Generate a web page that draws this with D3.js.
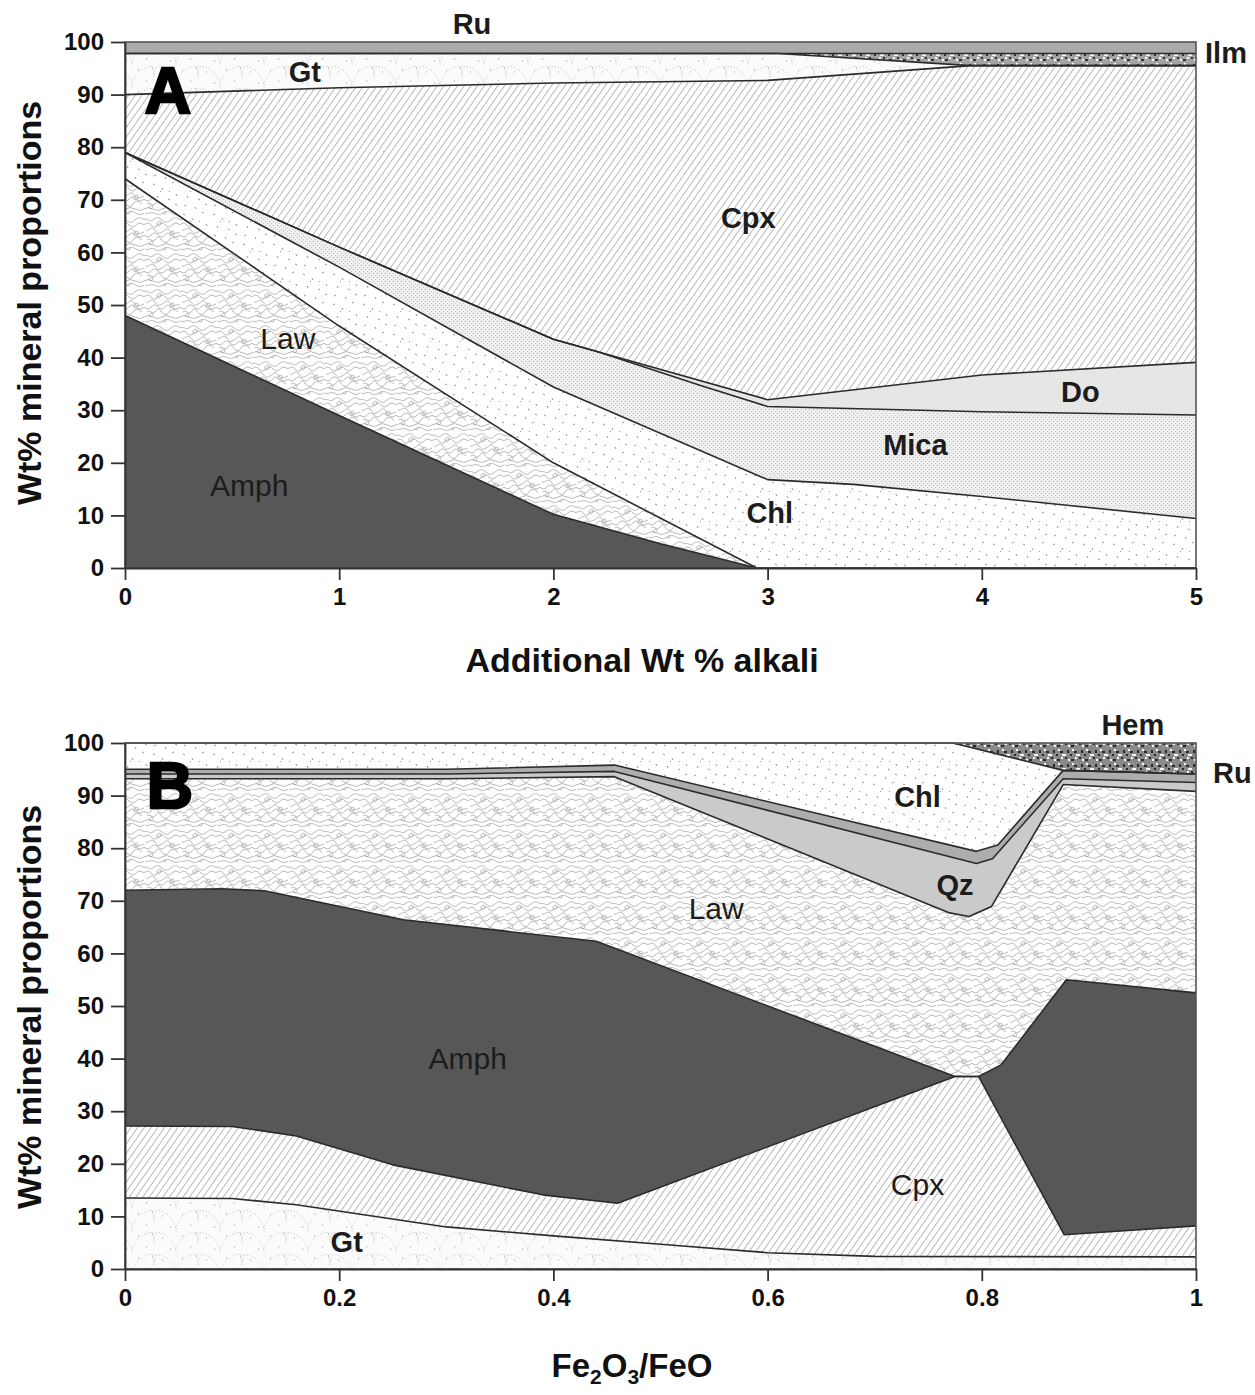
<!DOCTYPE html>
<html>
<head>
<meta charset="utf-8">
<script src="https://cdn.jsdelivr.net/npm/d3@7"></script>
<style>
  html, body { margin: 0; padding: 0; background: #fff; }
  svg { display: block; font-family: "Liberation Sans", Arial, sans-serif; }
</style>
</head>
<body>
<svg id="chart" width="1255" height="1395"></svg>
<script>
// ---- Panel A: additional wt% alkali; cumulative phase boundaries [x, wt%] ----
const ticksA = [0, 1, 2, 3, 4, 5];
const yTicks = [0, 10, 20, 30, 40, 50, 60, 70, 80, 90, 100];
const baseA  = [[0, 0], [5, 0]];
const amphA  = [[0, 48], [1, 29], [2, 10.2], [2.5, 4.6], [2.95, 0], [5, 0]];
const lawA   = [[0, 74], [1, 46], [2, 20], [2.95, 0], [5, 0]];
const chlA   = [[0, 79], [1, 57.2], [2, 34.4], [3, 16.8], [3.4, 15.9], [4, 13.6], [5, 9.4]];
const micaA  = [[0, 79], [1, 61], [2, 43.5], [2.2, 41.2], [2.68, 34.8], [3, 30.7], [4, 29.7], [5, 29.1]];
const doA    = [[0, 79], [1, 61], [2, 43.5], [3, 32], [4, 36.7], [5, 39.1]];
const cpxA   = [[0, 90], [1, 91.3], [2, 92.2], [3, 92.7], [3.95, 95.5], [5, 95.5]];
const gtA    = [[0, 97.8], [3.05, 97.8], [3.95, 95.5], [5, 95.5]];
const ilmA   = [[0, 97.8], [5, 97.8]];
const ruA    = [[0, 100], [5, 100]];

// ---- Panel B: Fe2O3/FeO ----
const ticksB = [0, 0.2, 0.4, 0.6, 0.8, 1];
const baseB  = [[0, 0], [1, 0]];
const gtB    = [[0, 13.5], [0.1, 13.4], [0.16, 12.2], [0.3, 8], [0.4, 6.3], [0.5, 4.7], [0.6, 3.1], [0.7, 2.4], [1, 2.3]];
const cpxB   = [[0, 27.2], [0.1, 27.1], [0.16, 25.3], [0.25, 19.8], [0.39, 14.1], [0.46, 12.5], [0.775, 36.6], [0.797, 36.6], [0.877, 6.5], [1, 8.2]];
const amphB  = [[0, 72], [0.09, 72.3], [0.13, 71.9], [0.26, 66.4], [0.44, 62.3], [0.775, 36.6], [0.797, 36.6], [0.818, 38.8], [0.879, 55], [1, 52.5]];
const lawB   = [[0, 93.2], [0.3, 93.2], [0.457, 93.6], [0.77, 67.7], [0.788, 67.0], [0.809, 68.9], [0.876, 92.1], [1, 90.8]];
const qzB    = [[0, 94.1], [0.3, 94.1], [0.457, 94.6], [0.795, 77.1], [0.81, 78], [0.876, 93.2], [1, 92.5]];
const ruB    = [[0, 95.0], [0.3, 95.0], [0.457, 95.8], [0.795, 79.4], [0.815, 80.6], [0.876, 94.8], [1, 94.1]];
const chlB   = [[0, 100], [0.773, 100], [0.876, 94.8], [1, 94.1]];
const hemB   = [[0, 100], [1, 100]];

// phase names and where their labels sit (data units)
const labelsA = [
  { t: "Ru",   x: 1.62, y: 103.4, w: "bold" },
  { t: "Gt",   x: 0.84, y: 94.3,  w: "bold" },
  { t: "Ilm",  x: 5.14, y: 97.9,  w: "bold" },
  { t: "Cpx",  x: 2.91, y: 66.5,  w: "bold" },
  { t: "Do",   x: 4.46, y: 33.5,  w: "bold" },
  { t: "Mica", x: 3.69, y: 23.4,  w: "bold" },
  { t: "Chl",  x: 3.01, y: 10.5,  w: "bold" },
  { t: "Law",  x: 0.76, y: 43.7,  w: "normal" },
  { t: "Amph", x: 0.58, y: 15.6,  w: "normal" }
];
const labelsB = [
  { t: "Hem",  x: 0.941, y: 103.4, w: "bold" },
  { t: "Ru",   x: 1.034, y: 94.3,  w: "bold" },
  { t: "Chl",  x: 0.74,  y: 89.7,  w: "bold" },
  { t: "Qz",   x: 0.775, y: 73,    w: "bold" },
  { t: "Law",  x: 0.552, y: 68.6,  w: "normal" },
  { t: "Amph", x: 0.32,  y: 40.1,  w: "normal" },
  { t: "Cpx",  x: 0.74,  y: 16,    w: "normal" },
  { t: "Gt",   x: 0.207, y: 5.1,   w: "bold" }
];

const svg = d3.select("#chart");
const defs = svg.append("defs");

// ---------- fill textures ----------
function pat(id, w, h, bg, extra) {
  const p = defs.append("pattern").attr("id", id).attr("patternUnits", "userSpaceOnUse")
    .attr("width", w).attr("height", h);
  if (extra) p.attr("patternTransform", extra);
  if (bg) p.append("rect").attr("width", w).attr("height", h).attr("fill", bg);
  return p;
}
// clinopyroxene: fine diagonal hatch
pat("cpx", 5.5, 10, "#fff", "rotate(35)")
  .append("line").attr("x1", 0.5).attr("y1", 0).attr("x2", 0.5).attr("y2", 10)
  .attr("stroke", "#a2a2a2").attr("stroke-width", 0.8);

// lawsonite: contorted swirl texture
{
  const p = pat("law", 36, 36, "#fff");
  const sw = [
    "M0,4 c3,-3 6,3 9,0 s6,-3 9,0 s6,3 9,0 s6,-3 9,0",
    "M0,9 q4,-4 7,0 t7,0 t7,0 t7,0 t8,0",
    "M2,14 c2,2 5,-4 8,-1 s3,6 8,3 s5,-5 8,-1 s5,3 10,1",
    "M0,19 q4,4 7,0 t7,0 t7,0 t7,0 t8,0",
    "M3,24 c3,-3 5,3 8,0 s3,-5 6,-1 s5,5 8,1 s5,-3 9,0",
    "M0,29 q4,-3 9,0 t9,0 t9,0 t9,0",
    "M1,33 c3,2 6,-2 9,0 s6,2 9,0 s6,-2 9,0 s5,2 8,0",
    "M14,6 c2,-2 5,0 2,3 c-2,2 -5,0 -2,-3",
    "M27,16 c2,-2 5,0 2,3 c-2,2 -5,0 -2,-3",
    "M6,26 c2,-2 4,0 2,2 c-2,2 -4,0 -2,-2",
    "M21,31 c2,2 1,4 -2,2"
  ];
  p.selectAll("path").data(sw).join("path").attr("d", d => d)
    .attr("fill", "none").attr("stroke", "#a0a0a0").attr("stroke-width", 0.75);
}
// chlorite: scattered specks
{
  const p = pat("chl", 30, 30, "#fff");
  p.append("path")
    .attr("d", "M3,4 l2,1 M12,8 l1,2 M22,3 l2,-1 M7,16 l1,2 M18,19 l2,1 M26,14 l1,2 M4,26 l2,-1 M15,27 l1,2 M25,24 l2,1 M10,12 l1,-1 M20,11 l-1,1")
    .attr("stroke", "#8a8a8a").attr("stroke-width", 0.9).attr("fill", "none");
}
// garnet: dotted scallops
{
  const p = pat("gt", 44, 22, "#fbfbfb");
  p.append("path").attr("d", "M0,22 A22,22 0 0 1 44,22 M-22,11 A22,22 0 0 1 22,11 M22,11 A22,22 0 0 1 66,11")
    .attr("fill", "none").attr("stroke", "#b0b0b0").attr("stroke-width", 0.8).attr("stroke-dasharray", "1,2");
  p.append("path").attr("d", "M6,4 h1 M30,6 h1 M14,15 h1 M38,17 h1 M20,2 h1")
    .attr("stroke", "#999").attr("stroke-width", 1);
}
// mica: fine stipple
{
  const p = pat("mica", 4, 4, "#efefef");
  p.append("rect").attr("x", 1).attr("y", 1).attr("width", 1).attr("height", 1).attr("fill", "#b5b5b5");
  p.append("rect").attr("x", 3).attr("y", 3).attr("width", 1).attr("height", 1).attr("fill", "#c5c5c5");
}
// ilmenite / hematite: coarse speckle
function speckle(id, bg, dark) {
  const p = pat(id, 14, 14, bg);
  p.append("path").attr("d", "M1,1h2v2h-2z M7,3h3v2h-3z M3,8h2v3h-2z M10,9h3v2h-3z M6,12h2v2h-2z")
    .attr("fill", dark);
  p.append("path").attr("d", "M4,3h2v2h-2z M11,1h2v2h-2z M0,12h2v2h-2z M8,7h2v2h-2z M12,12h2v2h-2z")
    .attr("fill", "#f6f6f6");
}
speckle("ilm", "#a4a4a4", "#333");
speckle("hem", "#8a8a8a", "#2a2a2a");

const fills = {
  amph: "#575757", law: "url(#law)", chl: "url(#chl)", mica: "url(#mica)", do: "#e6e6e6",
  cpx: "url(#cpx)", gt: "url(#gt)", ilm: "url(#ilm)", ruA: "#ababab",
  qz: "#cacaca", ruB: "#adadad", hem: "url(#hem)"
};

// ---------- panel builder ----------
function panel(cfg) {
  const x = d3.scaleLinear().domain(cfg.xDomain).range([125, 1196]);
  const y = d3.scaleLinear().domain([0, 100]).range([cfg.y0, cfg.y100]);
  const g = svg.append("g");
  const line = d3.line().x(d => x(d[0])).y(d => y(d[1]));

  // stacked phase fields: upper boundary forward, lower boundary back
  cfg.layers.forEach(L => {
    const poly = L.upper.concat(L.lower.slice().reverse());
    g.append("path").attr("d", line(poly) + "Z").attr("fill", L.fill).attr("stroke", "none");
  });
  // phase boundaries
  cfg.lines.forEach(b => {
    g.append("path").attr("d", line(b)).attr("fill", "none")
      .attr("stroke", "#2b2b2b").attr("stroke-width", 1.6).attr("stroke-linejoin", "round");
  });
  // frame
  g.append("rect").attr("x", x(cfg.xDomain[0])).attr("y", y(100))
    .attr("width", x(cfg.xDomain[1]) - x(cfg.xDomain[0])).attr("height", y(0) - y(100))
    .attr("fill", "none").attr("stroke", "#555").attr("stroke-width", 1.6);

  // axes
  const ax = g.append("g").attr("transform", `translate(0,${y(0)})`)
    .call(d3.axisBottom(x).tickValues(cfg.xTicks).tickSize(12).tickPadding(8)
      .tickFormat(cfg.xFormat).tickSizeOuter(0));
  const ay = g.append("g").attr("transform", `translate(${x(cfg.xDomain[0])},0)`)
    .call(d3.axisLeft(y).tickValues(yTicks).tickSize(14).tickPadding(7).tickSizeOuter(0));
  [ax, ay].forEach(a => {
    a.select(".domain").attr("stroke", "#333").attr("stroke-width", 1.8);
    a.selectAll(".tick line").attr("stroke", "#333").attr("stroke-width", 1.8);
    a.selectAll(".tick text").attr("fill", "#111").style("font-size", "24px")
      .style("font-weight", "bold").style("font-family", "'Liberation Sans', Arial, sans-serif");
  });

  // panel letter
  g.append("text").attr("x", x(cfg.letterAt[0])).attr("y", y(cfg.letterAt[1]))
    .attr("text-anchor", "middle").attr("dominant-baseline", "central")
    .style("font-size", "64px").style("font-weight", "900").attr("fill", "#000")
    .attr("stroke", "#000").attr("stroke-width", 2.5).text(cfg.letter);

  // phase labels
  g.selectAll("text.ph").data(cfg.labels).join("text").attr("class", "ph")
    .attr("x", d => x(d.x)).attr("y", d => y(d.y))
    .attr("text-anchor", "middle").attr("dominant-baseline", "central")
    .style("font-size", d => d.w === "bold" ? "29px" : "30px").style("font-weight", d => d.w)
    .attr("fill", "#1c1c1c")
    .text(d => d.t);

  // y title
  g.append("text").attr("transform", `translate(29,${cfg.yTitleY}) rotate(-90)`)
    .attr("text-anchor", "middle").attr("dominant-baseline", "central")
    .style("font-size", "34px").style("font-weight", "bold").attr("fill", "#111")
    .text("Wt% mineral proportions");
  return g;
}

const A = panel({
  xDomain: [0, 5], y0: 568, y100: 42, xTicks: ticksA, xFormat: d3.format("d"),
  letter: "A", letterAt: [0.2, 90.6], labels: labelsA, yTitleY: 303,
  layers: [
    { lower: baseA, upper: amphA, fill: fills.amph },
    { lower: amphA, upper: lawA, fill: fills.law },
    { lower: lawA,  upper: chlA, fill: fills.chl },
    { lower: chlA,  upper: micaA, fill: fills.mica },
    { lower: micaA, upper: doA, fill: fills.do },
    { lower: doA,   upper: cpxA, fill: fills.cpx },
    { lower: cpxA,  upper: gtA, fill: fills.gt },
    { lower: gtA,   upper: ilmA, fill: fills.ilm },
    { lower: ilmA,  upper: ruA, fill: fills.ruA }
  ],
  lines: [amphA, lawA, chlA, micaA, doA, cpxA, gtA, ilmA]
});
A.append("text").attr("x", 642).attr("y", 660).attr("text-anchor", "middle")
  .attr("dominant-baseline", "central").style("font-size", "34px").style("font-weight", "bold")
  .attr("fill", "#111").text("Additional Wt % alkali");

const B = panel({
  xDomain: [0, 1], y0: 1269, y100: 743, xTicks: ticksB, xFormat: d => d3.format("")(+d.toFixed(1)),
  letter: "B", letterAt: [0.042, 91.8], labels: labelsB, yTitleY: 1007,
  layers: [
    { lower: baseB, upper: gtB, fill: fills.gt },
    { lower: gtB,   upper: cpxB, fill: fills.cpx },
    { lower: cpxB,  upper: amphB, fill: fills.amph },
    { lower: amphB, upper: lawB, fill: fills.law },
    { lower: lawB,  upper: qzB, fill: fills.qz },
    { lower: qzB,   upper: ruB, fill: fills.ruB },
    { lower: ruB,   upper: chlB, fill: fills.chl },
    { lower: chlB,  upper: hemB, fill: fills.hem }
  ],
  lines: [gtB, cpxB, amphB, lawB, qzB, ruB, chlB]
});
{
  const t = B.append("text").attr("x", 632).attr("y", 1365).attr("text-anchor", "middle")
    .attr("dominant-baseline", "central").style("font-size", "33px").style("font-weight", "bold")
    .attr("fill", "#111");
  t.append("tspan").text("Fe");
  t.append("tspan").attr("baseline-shift", "sub").style("font-size", "21px").text("2");
  t.append("tspan").text("O");
  t.append("tspan").attr("baseline-shift", "sub").style("font-size", "21px").text("3");
  t.append("tspan").text("/FeO");
}
</script>
</body>
</html>
